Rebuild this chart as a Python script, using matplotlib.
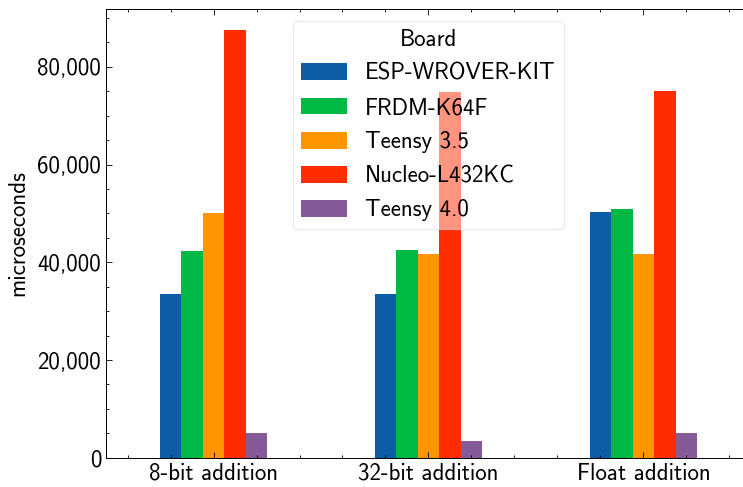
import matplotlib
matplotlib.use("Agg")
import matplotlib.pyplot as plt
import numpy as np
from matplotlib.ticker import AutoMinorLocator, FuncFormatter

# Данные
tests = ["8-bit addition", "32-bit addition", "Float addition"]
boards = ["ESP-WROVER-KIT", "FRDM-K64F", "Teensy 3.5", "Nucleo-L432KC", "Teensy 4.0"]
esp = [33500, 33500, 50300]
frdm = [42300, 42500, 50900]
teensy35 = [50100, 41700, 41700]
nucleo = [87500, 74900, 75000]
teensy40 = [5000, 3400, 5000]
colors = ["#0C5DA5", "#00B945", "#FF9500", "#FF2C00", "#845B97"]

plt.rcParams['font.family'] = ['cmss10', 'DejaVu Sans']
plt.rcParams['font.size'] = 16.5
plt.rcParams['axes.unicode_minus'] = False

fig = plt.figure(figsize=(7.43, 4.87), dpi=100)
ax = fig.add_axes([0.1427, 0.060, 0.868, 0.921])

series = [esp, frdm, teensy35, nucleo, teensy40]
x = np.arange(len(tests))
w = 0.1
for i, (vals, name) in enumerate(zip(series, boards)):
    ax.bar(x + (i - 2) * w, vals, w, color=colors[i], label=name)

ax.set_xlim(-0.5, 2.5)
ax.set_ylim(0, 91800)
ax.set_xticks(x)
ax.set_xticklabels(tests)
ax.set_ylabel("microseconds", labelpad=6)
ax.yaxis.set_major_formatter(FuncFormatter(lambda v, p: f"{int(v):,}"))
ax.xaxis.set_minor_locator(AutoMinorLocator(5))
ax.yaxis.set_minor_locator(AutoMinorLocator(4))
ax.tick_params(which='both', direction='in', top=True, right=True, width=0.6)
ax.tick_params(which='major', length=4)
ax.tick_params(which='minor', length=2)
for s in ax.spines.values():
    s.set_linewidth(0.7)

leg = ax.legend(title="Board", loc="upper center", framealpha=0.5,
                handlelength=2.0, handleheight=0.75, labelspacing=0.53,
                borderpad=0.35)
leg.get_frame().set_edgecolor("#d9d9d9")

plt.savefig("out.png", dpi=100)
